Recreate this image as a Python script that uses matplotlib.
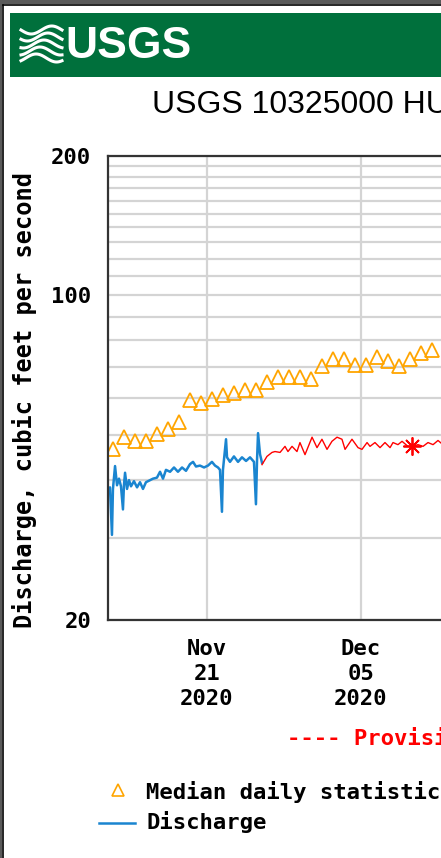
import numpy as np
import pandas as pd
import matplotlib
matplotlib.use('Agg')
import matplotlib.pyplot as plt
from matplotlib.lines import Line2D
from matplotlib.patches import Rectangle
from matplotlib.ticker import FixedLocator, NullLocator

W, H = 441, 858
START = pd.Timestamp('2020-11-12')

# median daily statistic, one value per day
median_cfs = [46.6, 49.6, 48.5, 48.5, 50.4, 51.5, 53.5, 59.4, 58.6, 59.7,
              60.9, 61.5, 62.5, 62.5, 65.0, 66.6, 66.6, 66.6, 66.0, 70.4,
              72.9, 72.9, 70.7, 70.7, 73.6, 72.1, 70.4, 72.9, 75.1, 76.2]

# discharge (days since Nov 12 2020, cfs)
q_days = [0.0, 0.18, 0.36, 0.45, 0.64, 0.82, 1.0, 1.18, 1.36, 1.45, 1.55, 1.73,
          1.91, 2.09, 2.36, 2.64, 2.91, 3.18, 3.45, 3.82, 4.09, 4.45, 4.73, 5.0,
          5.27, 5.64, 6.0, 6.36, 6.73, 7.09, 7.45, 7.73, 8.0, 8.36, 8.73, 9.09,
          9.45, 9.73, 10.0, 10.18, 10.36, 10.45, 10.73, 10.82, 11.09, 11.45,
          11.82, 12.18, 12.55, 12.91, 13.27, 13.45, 13.55, 13.64, 13.82, 14.0]
q_cfs = [37.9, 38.6, 30.5, 38.3, 42.9, 39.0, 40.3, 38.8, 34.6, 39.0, 41.5, 38.3,
         40.0, 38.8, 39.8, 38.6, 39.6, 38.3, 39.6, 40.0, 40.3, 40.5, 41.7, 40.3,
         42.1, 41.7, 42.6, 41.7, 42.6, 41.9, 43.3, 43.8, 42.8, 43.0, 42.6, 43.0,
         43.8, 43.0, 42.6, 42.1, 34.2, 42.1, 49.0, 44.8, 43.8, 45.0,
         43.8, 44.8, 44.0, 44.8, 43.8, 35.5, 44.3, 50.5, 45.5, 43.6]

# provisional / estimated discharge (red)
e_days = [14.0, 14.45, 14.91, 15.18, 15.64, 16.09, 16.36, 16.73, 17.18, 17.45,
          17.91, 18.55, 19.0, 19.45, 19.91, 20.36, 20.82, 21.27, 21.55, 22.18,
          22.73, 23.09, 23.55, 23.82, 24.27, 24.73, 25.18, 25.64, 25.91, 26.36,
          26.73, 27.27, 27.64, 28.18, 28.64, 29.09, 29.55, 30.0, 30.45]
e_cfs = [43.2, 45.0, 45.9, 46.1, 45.9, 47.3, 46.1, 47.3, 46.1, 48.2,
         45.4, 49.5, 47.0, 49.0, 46.6, 48.5, 49.5, 49.0, 46.6, 49.0,
         47.0, 46.6, 48.2, 47.3, 48.2, 47.0, 48.2, 47.0, 48.2, 47.7,
         48.5, 47.3, 47.3, 47.7, 47.3, 48.2, 47.7, 48.7, 47.7]
meas_day = [27.64]
meas_cfs = [47.3]

y_major = [20, 100, 200]
y_minor = [30, 40, 50, 60, 70, 80, 90, 110, 120, 130, 140, 150, 160, 170, 180, 190]
x_ticks = ['2020-11-21', '2020-12-05', '2020-12-19']
x_ticklabels = ['Nov\n21\n2020', 'Dec\n05\n2020', 'Dec\n19\n2020']

MONO = 'DejaVu Sans Mono'
SANS = ['Liberation Sans', 'DejaVu Sans']
GREEN = '#00703C'
GRID = '#d4d4d4'


def fx(x):
    return x / W


def fy(y):
    return 1 - y / H


fig = plt.figure(figsize=(W / 100, H / 100), dpi=100)
fig.patch.set_facecolor('white')

# frame and banner
fig.add_artist(Rectangle((0, fy(4)), 1, 4 / H, transform=fig.transFigure, color='#5a5a5a', lw=0))
fig.add_artist(Rectangle((0, 0), fx(2), 1, transform=fig.transFigure, color='#5a5a5a', lw=0))
fig.add_artist(Line2D([fx(3), 1], [fy(5), fy(5)], transform=fig.transFigure, color='black', lw=1.2))
fig.add_artist(Line2D([fx(3), fx(3)], [0, fy(5)], transform=fig.transFigure, color='black', lw=1.2))
fig.add_artist(Rectangle((fx(10), fy(77)), 1, 64 / H, transform=fig.transFigure, color=GREEN, lw=0))

# wave logo
t = np.linspace(0, 1, 40)
for k in range(5):
    yy = 30 + k * 7 + 4 * np.sin(t * 2 * np.pi + 0.6 * k)
    fig.add_artist(Line2D(fx(21 + 41 * t), fy(yy), transform=fig.transFigure, color='white', lw=2.2))
fig.text(fx(65), fy(46), 'USGS', color='white', fontsize=32, fontweight='bold',
         family=SANS, ha='left', va='center')

fig.text(fx(152), fy(105), 'USGS 10325000 HUMBOLDT RV AT BATTLE MOUNTAIN, NV',
         fontsize=23, family=SANS, ha='left', va='center')

# plot area
x0 = START
x1 = START + pd.Timedelta(days=40)
ax_left, ax_top, ax_bot = 108, 155.5, 620
ax_w = 40 * 11
ax = fig.add_axes([fx(ax_left), fy(ax_bot), ax_w / W, (ax_bot - ax_top) / H])
ax.set_yscale('log')
ax.set_ylim(20, 200)
ax.set_xlim(x0, x1)

ax.yaxis.set_major_locator(FixedLocator(y_major))
ax.yaxis.set_minor_locator(FixedLocator(y_minor))
ax.set_yticklabels([str(v) for v in y_major])
ax.yaxis.set_minor_formatter(plt.NullFormatter())
ax.set_xticks(pd.to_datetime(x_ticks))
ax.set_xticklabels(x_ticklabels, linespacing=1.3)
ax.xaxis.set_minor_locator(NullLocator())

ax.grid(True, which='both', axis='y', color=GRID, lw=1.6)
ax.grid(True, which='major', axis='x', color=GRID, lw=1.6)
ax.set_axisbelow(True)
ax.tick_params(which='both', length=0)
ax.tick_params(axis='y', pad=12)
ax.tick_params(axis='x', pad=14)
for lab in ax.get_xticklabels() + ax.get_yticklabels():
    lab.set_family(MONO)
    lab.set_fontweight('bold')
    lab.set_fontsize(16)
for s in ax.spines.values():
    s.set_color('#333333')
    s.set_linewidth(1.6)

med_t = pd.date_range(START + pd.Timedelta(hours=12), periods=len(median_cfs), freq='D')
ax.plot(med_t, median_cfs, ls='none', marker='^', ms=10, mfc='none', mec='#FFA500', mew=1.3)

q_t = START + pd.to_timedelta(q_days, unit='D')
ax.plot(q_t, q_cfs, color='#1A85D0', lw=1.8)
e_t = START + pd.to_timedelta(e_days, unit='D')
ax.plot(e_t, e_cfs, color='red', lw=1.0)
m_t = START + pd.to_timedelta(meas_day, unit='D')
ax.plot(m_t, meas_cfs, ls='none', marker=(8, 2, 0), ms=13, color='red', mew=1.3)

fig.text(fx(25), fy(400), 'Discharge, cubic feet per second', rotation=90,
         family=MONO, fontweight='bold', fontsize=17, ha='center', va='center')

# legend
fig.text(fx(287), fy(738), '---- Provisional Data Subject to Revision ----',
         color='red', family=MONO, fontweight='bold', fontsize=16, ha='left', va='center')
fig.add_artist(Line2D([fx(118)], [fy(790)], transform=fig.transFigure, ls='none',
                      marker='^', ms=9, mfc='none', mec='#FFA500', mew=1.2))
fig.text(fx(146), fy(792), 'Median daily statistic (100 years)', family=MONO,
         fontweight='bold', fontsize=16, ha='left', va='center')
fig.add_artist(Line2D([fx(99), fx(135)], [fy(823), fy(823)], transform=fig.transFigure,
                      color='#1A85D0', lw=1.8))
fig.text(fx(146), fy(822), 'Discharge', family=MONO, fontweight='bold', fontsize=16,
         ha='left', va='center')

fig.savefig('out.png', dpi=100)
